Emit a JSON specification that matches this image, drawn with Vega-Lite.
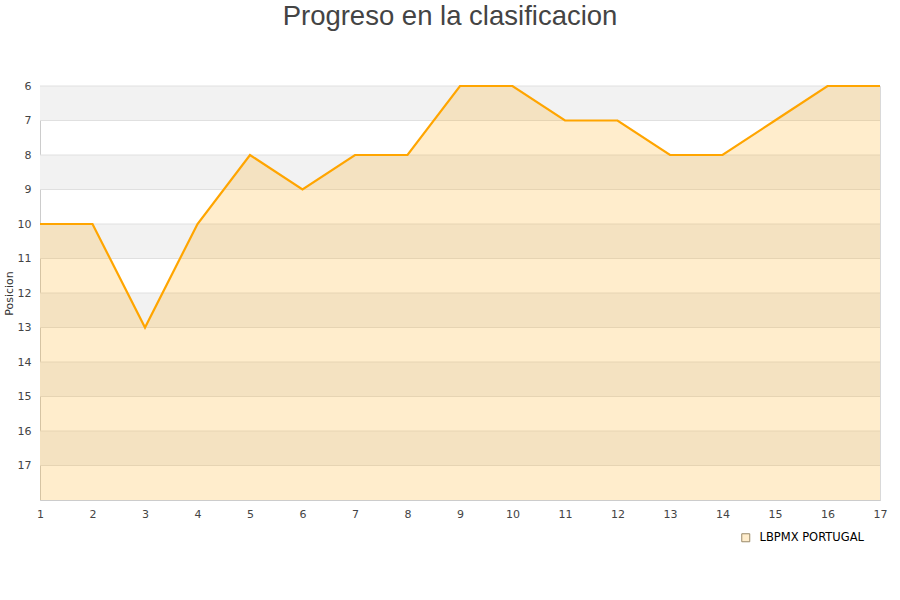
{
  "$schema": "https://vega.github.io/schema/vega-lite/v6.json",
  "width": 840,
  "height": 414,
  "autosize": {"type": "none"},
  "padding": {"left": 40, "top": 86, "right": 20, "bottom": 100},
  "background": "white",
  "config": {
    "view": {"stroke": "#d9d9d9", "strokeWidth": 1},
    "font": "DejaVu Sans",
    "axis": {"labelOverlap": false, "grid": false, "ticks": false, "domainColor": "#cccccc", "labelColor": "#444444", "labelFontSize": 11, "labelFont": "DejaVu Sans"}
  },
  "title": {
    "text": "Progreso en la clasificacion",
    "font": "Liberation Sans",
    "fontSize": 27.5,
    "fontWeight": "normal",
    "color": "#444444",
    "anchor": "middle",
    "offset": 50,
    "dx": -10
  },
  "datasets": {
    "posiciones": [
      {"jornada": 1, "posicion": 10, "equipo": "LBPMX PORTUGAL"},
      {"jornada": 2, "posicion": 10, "equipo": "LBPMX PORTUGAL"},
      {"jornada": 3, "posicion": 13, "equipo": "LBPMX PORTUGAL"},
      {"jornada": 4, "posicion": 10, "equipo": "LBPMX PORTUGAL"},
      {"jornada": 5, "posicion": 8, "equipo": "LBPMX PORTUGAL"},
      {"jornada": 6, "posicion": 9, "equipo": "LBPMX PORTUGAL"},
      {"jornada": 7, "posicion": 8, "equipo": "LBPMX PORTUGAL"},
      {"jornada": 8, "posicion": 8, "equipo": "LBPMX PORTUGAL"},
      {"jornada": 9, "posicion": 6, "equipo": "LBPMX PORTUGAL"},
      {"jornada": 10, "posicion": 6, "equipo": "LBPMX PORTUGAL"},
      {"jornada": 11, "posicion": 7, "equipo": "LBPMX PORTUGAL"},
      {"jornada": 12, "posicion": 7, "equipo": "LBPMX PORTUGAL"},
      {"jornada": 13, "posicion": 8, "equipo": "LBPMX PORTUGAL"},
      {"jornada": 14, "posicion": 8, "equipo": "LBPMX PORTUGAL"},
      {"jornada": 15, "posicion": 7, "equipo": "LBPMX PORTUGAL"},
      {"jornada": 16, "posicion": 6, "equipo": "LBPMX PORTUGAL"},
      {"jornada": 17, "posicion": 6, "equipo": "LBPMX PORTUGAL"}
    ],
    "bandas": [
      {"desde": 6, "hasta": 7},
      {"desde": 8, "hasta": 9},
      {"desde": 10, "hasta": 11},
      {"desde": 12, "hasta": 13},
      {"desde": 14, "hasta": 15},
      {"desde": 16, "hasta": 17}
    ],
    "lineas": [
      {"nivel": 6}, {"nivel": 7}, {"nivel": 8}, {"nivel": 9}, {"nivel": 10},
      {"nivel": 11}, {"nivel": 12}, {"nivel": 13}, {"nivel": 14}, {"nivel": 15},
      {"nivel": 16}, {"nivel": 17}
    ]
  },
  "resolve": {"scale": {"y": "shared", "x": "shared"}},
  "layer": [
    {
      "data": {"name": "bandas"},
      "mark": {"type": "rect", "fill": "#f2f2f2"},
      "encoding": {
        "y": {
          "field": "desde", "type": "quantitative",
          "scale": {"domain": [6, 18], "reverse": true, "nice": false, "zero": false},
          "axis": {
            "title": "Posicion", "titleFont": "DejaVu Sans", "titleFontSize": 11,
            "titleFontWeight": "normal", "titleColor": "#333333", "titlePadding": 3,
            "values": [6,7,8,9,10,11,12,13,14,15,16,17],
            "labelOverlap": false, "labelPadding": 9
          }
        },
        "y2": {"field": "hasta"}
      }
    },
    {
      "data": {"name": "lineas"},
      "mark": {"type": "rule", "stroke": "#e0e0e0", "strokeWidth": 1},
      "encoding": {
        "y": {
          "field": "nivel", "type": "quantitative",
          "axis": {
            "title": "Posicion", "titleFont": "DejaVu Sans", "titleFontSize": 11,
            "titleFontWeight": "normal", "titleColor": "#333333", "titlePadding": 3,
            "values": [6,7,8,9,10,11,12,13,14,15,16,17],
            "labelOverlap": false, "labelPadding": 9
          }
        }
      }
    },
    {
      "data": {"name": "posiciones"},
      "mark": {"type": "area", "interpolate": "linear"},
      "encoding": {
        "x": {
          "field": "jornada", "type": "quantitative",
          "scale": {"domain": [1, 17], "nice": false, "zero": false},
          "axis": {
            "title": null, "values": [1,2,3,4,5,6,7,8,9,10,11,12,13,14,15,16,17],
            "labelOverlap": false, "labelPadding": 8, "labelFlush": false
          }
        },
        "y": {
          "field": "posicion", "type": "quantitative",
          "axis": {
            "title": "Posicion", "titleFont": "DejaVu Sans", "titleFontSize": 11,
            "titleFontWeight": "normal", "titleColor": "#333333", "titlePadding": 3,
            "values": [6,7,8,9,10,11,12,13,14,15,16,17],
            "labelOverlap": false, "labelPadding": 9
          }
        },
        "y2": {"datum": 18},
        "color": {
          "field": "equipo", "type": "nominal",
          "scale": {"range": ["rgba(255,165,0,0.2)"]},
          "legend": {
            "title": null, "orient": "none", "legendX": 700, "legendY": 446,
            "symbolType": "square", "symbolSize": 64,
            "symbolStrokeColor": "#9a8a6a", "symbolStrokeWidth": 1, "symbolOpacity": 1,
            "labelFont": "DejaVu Sans", "labelFontSize": 11.5, "labelColor": "#000000",
            "labelOffset": 8, "padding": 0
          }
        }
      }
    },
    {
      "data": {"name": "posiciones"},
      "mark": {"type": "line", "stroke": "#ffa500", "strokeWidth": 2.2},
      "encoding": {
        "x": {
          "field": "jornada", "type": "quantitative",
          "axis": {
            "title": null, "values": [1,2,3,4,5,6,7,8,9,10,11,12,13,14,15,16,17],
            "labelOverlap": false, "labelPadding": 8, "labelFlush": false
          }
        },
        "y": {
          "field": "posicion", "type": "quantitative",
          "axis": {
            "title": "Posicion", "titleFont": "DejaVu Sans", "titleFontSize": 11,
            "titleFontWeight": "normal", "titleColor": "#333333", "titlePadding": 3,
            "values": [6,7,8,9,10,11,12,13,14,15,16,17],
            "labelOverlap": false, "labelPadding": 9
          }
        }
      }
    }
  ]
}
